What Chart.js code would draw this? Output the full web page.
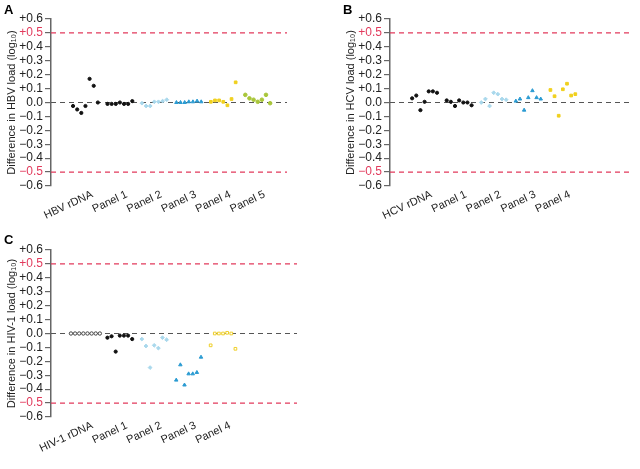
<!DOCTYPE html>
<html lang="en">
<head>
<meta charset="utf-8">
<title>Difference in viral load</title>
<script src="https://cdn.jsdelivr.net/npm/chart.js@4.4.0/dist/chart.umd.min.js"></script>
<style>
  body { margin: 0; background: #fff; font-family: "Liberation Sans", Arial, sans-serif; }
  #wrap { position: relative; width: 640px; height: 469px; }
  canvas { position: absolute; }
  .tag { position: absolute; font-weight: bold; font-size: 13px; color: #000; }
</style>
</head>
<body>
<div id="wrap">
  <canvas id="chartA" width="320" height="230" style="left:0;top:0"></canvas>
  <canvas id="chartB" width="301" height="230" style="left:339px;top:0"></canvas>
  <canvas id="chartC" width="320" height="238" style="left:0;top:231px"></canvas>
  <div class="tag" style="left:4px;top:2px">A</div>
  <div class="tag" style="left:343px;top:2px">B</div>
  <div class="tag" style="left:4px;top:232px">C</div>
</div>
<script>
// category labels per panel
const hbvLabels = ['HBV rDNA', 'Panel 1', 'Panel 2', 'Panel 3', 'Panel 4', 'Panel 5'];
const hcvLabels = ['HCV rDNA', 'Panel 1', 'Panel 2', 'Panel 3', 'Panel 4'];
const hivLabels = ['HIV-1 rDNA', 'Panel 1', 'Panel 2', 'Panel 3', 'Panel 4'];

// A: HBV differences (log10)
const hbvRdna   = [-0.025, -0.05, -0.075, -0.025, 0.17, 0.12, 0.0];
const hbvPanel1 = [-0.01, -0.01, -0.01, 0.0, -0.01, -0.01, 0.01];
const hbvPanel2 = [-0.005, -0.025, -0.025, 0.005, 0.005, 0.01, 0.02];
const hbvPanel3 = [0.0, 0.0, 0.0, 0.005, 0.005, 0.01, 0.005];
const hbvPanel4 = [0.005, 0.015, 0.015, 0.005, -0.02, 0.025, 0.145];
const hbvPanel5 = [0.055, 0.03, 0.02, 0.005, 0.02, 0.055, -0.005];

// B: HCV differences
const hcvRdna   = [0.03, 0.05, -0.055, 0.005, 0.08, 0.08, 0.07];
const hcvPanel1 = [0.015, 0.005, -0.025, 0.015, 0.0, 0.0, -0.02];
const hcvPanel2 = [0.0, 0.025, -0.025, 0.07, 0.06, 0.025, 0.02];
const hcvPanel3 = [0.01, 0.025, -0.055, 0.035, 0.085, 0.035, 0.025];
const hcvPanel4 = [0.09, 0.045, -0.095, 0.095, 0.135, 0.05, 0.06];

// C: HIV-1 differences
const hivRdna   = [0, 0, 0, 0, 0, 0, 0, 0];
const hivPanel1 = [-0.03, -0.02, -0.13, -0.015, -0.015, -0.015, -0.04];
const hivPanel2 = [-0.04, -0.09, -0.245, -0.085, -0.105, -0.03, -0.045];
const hivPanel3 = [-0.335, -0.225, -0.37, -0.29, -0.29, -0.28, -0.17];
const hivPanel4 = [-0.085, 0, 0, 0, 0.005, 0, -0.11];

const yTicks = [-0.6, -0.5, -0.4, -0.3, -0.2, -0.1, 0, 0.1, 0.2, 0.3, 0.4, 0.5, 0.6];
const limitLines = [0.5, -0.5];

const RED = '#e23a5c';
const FONT = "'Liberation Sans', Arial, sans-serif";
const LABEL_SHIFT = 0.2; // labels sit a little right of the point groups

// marker styles for each group position
const styles = {
  black:  { pointStyle: 'circle', radius: 1.6, color: '#111', fill: true },
  ring:   { pointStyle: 'circle', radius: 1.7, color: '#444', fill: false },
  light:  { pointStyle: 'rectRot', radius: 1.9, color: '#a9d8ec', fill: true },
  blue:   { pointStyle: 'triangle', radius: 2.0, color: '#2b9bd2', fill: true },
  yellow: { pointStyle: 'rect', radius: 1.9, color: '#f0d01e', fill: true },
  ybox:   { pointStyle: 'rect', radius: 1.9, color: '#efcf2a', fill: false },
  green:  { pointStyle: 'circle', radius: 1.8, color: '#a9c63a', fill: true }
};

// spread points of a group side by side around its category position
function groupPoints(values, pos) {
  return values.map((v, i) => ({ x: pos + (i - (values.length - 1) / 2) * 0.12, y: v }));
}

function fmt(v) {
  const r = Math.round(v * 10) / 10;
  if (r > 0) return '+' + r.toFixed(1);
  if (r < 0) return '\u2212' + Math.abs(r).toFixed(1);
  return '0.0';
}

function makeChart(id, labels, groups, groupStyles, title, xMax, padRight) {
  const datasets = groups.map((vals, g) => {
    const s = styles[groupStyles[g]];
    return {
      type: 'scatter',
      data: groupPoints(vals, g),
      pointStyle: s.pointStyle,
      pointRadius: s.radius,
      pointBorderWidth: 1,
      pointBorderColor: s.color,
      pointBackgroundColor: s.fill ? s.color : '#fff',
      order: 1
    };
  });
  limitLines.forEach(v => {
    datasets.push({
      type: 'line',
      data: [{ x: -1, y: v }, { x: xMax, y: v }],
      borderColor: RED, borderWidth: 1.1, borderDash: [5, 4],
      pointRadius: 0, order: 5
    });
  });
  datasets.push({
    type: 'line',
    data: [{ x: -1, y: 0 }, { x: xMax, y: 0 }],
    borderColor: '#555', borderWidth: 1.2, borderDash: [5, 4],
    pointRadius: 0, order: 5
  });

  const canvas = document.getElementById(id);
  const xHeight = canvas.height - 186;

  return new Chart(canvas, {
    type: 'scatter',
    data: { datasets },
    options: {
      responsive: false,
      animation: false,
      events: [],
      layout: { padding: { top: 19, right: padRight, bottom: 0, left: 0 } },
      plugins: { legend: { display: false }, tooltip: { enabled: false } },
      scales: {
        x: {
          type: 'linear', min: -1, max: xMax,
          afterBuildTicks: scale => { scale.ticks = labels.map((l, i) => ({ value: i + LABEL_SHIFT })); },
          afterFit: scale => { scale.height = xHeight; },
          grid: { display: false },
          border: { display: false },
          ticks: {
            autoSkip: false, minRotation: 25, maxRotation: 25, padding: -6,
            color: '#222', font: { family: FONT, size: 11 },
            callback: v => labels[Math.round(v - LABEL_SHIFT)]
          }
        },
        y: {
          min: -0.6, max: 0.6,
          afterBuildTicks: scale => { scale.ticks = yTicks.map(v => ({ value: v })); },
          afterFit: scale => { scale.width = 51; },
          grid: { drawOnChartArea: false, drawTicks: true, tickLength: 6, color: '#666', lineWidth: 1.2 },
          border: { display: true, color: '#666', width: 1.5 },
          ticks: {
            autoSkip: false, padding: 2, font: { family: FONT, size: 12 },
            color: ctx => Math.abs(Math.abs(ctx.tick.value) - 0.5) < 1e-6 ? RED : '#222',
            callback: v => fmt(v)
          },
          title: {
            display: true, text: title, color: '#222',
            font: { family: FONT, size: 11 }, padding: { top: 5, bottom: 0 }
          }
        }
      }
    }
  });
}

makeChart('chartA', hbvLabels,
  [hbvRdna, hbvPanel1, hbvPanel2, hbvPanel3, hbvPanel4, hbvPanel5],
  ['black', 'black', 'light', 'blue', 'yellow', 'green'],
  'Difference in HBV load (log\u2081\u2080)', 5.85, 33);

makeChart('chartB', hcvLabels,
  [hcvRdna, hcvPanel1, hcvPanel2, hcvPanel3, hcvPanel4],
  ['black', 'black', 'light', 'blue', 'yellow'],
  'Difference in HCV load (log\u2081\u2080)', 6.0, 8);

makeChart('chartC', hivLabels,
  [hivRdna, hivPanel1, hivPanel2, hivPanel3, hivPanel4],
  ['ring', 'black', 'light', 'blue', 'ybox'],
  'Difference in HIV-1 load (log\u2081\u2080)', 6.15, 23);
</script>
</body>
</html>
